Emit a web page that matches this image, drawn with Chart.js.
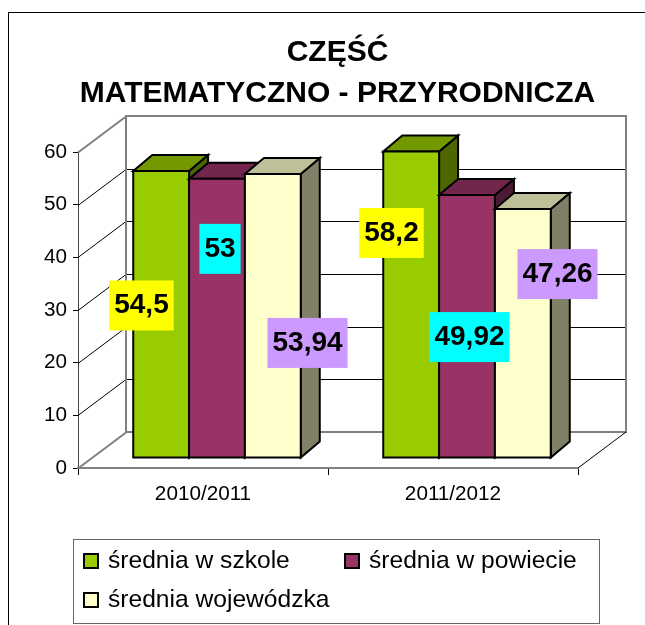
<!DOCTYPE html>
<html lang="pl">
<head>
<meta charset="utf-8">
<title>Część matematyczno-przyrodnicza</title>
<script src="https://cdn.jsdelivr.net/npm/chart.js@4/dist/chart.umd.min.js"></script>
<style>
  html, body { margin: 0; padding: 0; background: #fff; }
  canvas { display: block; }
</style>
</head>
<body>
<canvas id="chart" width="645" height="625"></canvas>
<script>
// Data
const categories = ["2010/2011", "2011/2012"];
const seriesNames = ["średnia w szkole", "średnia w powiecie", "średnia wojewódzka"];
const szkola = [54.5, 58.2];
const powiat = [53, 49.92];
const wojewodztwo = [53.94, 47.26];

// Colours: front, top, side of each series
const fronts = ["#99CC00", "#993366", "#FFFFCC"];
const tops = ["#739900", "#73264D", "#BFBF99"];
const sides = ["#4D6600", "#4D1A33", "#808066"];
const labelBoxes = ["#FFFF00", "#00FFFF", "#CC99FF"];

// Label offsets from the bar's value point, [series][category]
const labelOffsets = [
  [[-5.7, 124.5], [-5.7, 71.5]],
  [[17, 60], [16.5, 132]],
  [[48.7, 159], [48.7, 55]]
];

const FONT = '"Liberation Sans", Arial, sans-serif';
const GRAY = "#808080";

// 3D look: walls sit behind the axes, bars are pushed part of the way in
const WALL_DX = 48, WALL_DY = 36;
const BAR_DX = 14, BAR_DY = 10;
const DEPTH_DX = 19, DEPTH_DY = 16;

function line(ctx, x1, y1, x2, y2, color, width) {
  ctx.strokeStyle = color;
  ctx.lineWidth = width;
  ctx.beginPath();
  ctx.moveTo(x1, y1);
  ctx.lineTo(x2, y2);
  ctx.stroke();
}

function face(ctx, pts, fill) {
  ctx.fillStyle = fill;
  ctx.strokeStyle = "#000";
  ctx.lineWidth = 2;
  ctx.lineJoin = "miter";
  ctx.beginPath();
  pts.forEach((p, i) => (i ? ctx.lineTo(p[0], p[1]) : ctx.moveTo(p[0], p[1])));
  ctx.closePath();
  ctx.fill();
  ctx.stroke();
}

// ------------------------------------------------------------
// Walls and grid
// ------------------------------------------------------------
function drawWalls(chart) {
  const ctx = chart.ctx;
  const { left, right } = chart.chartArea;
  const y = chart.scales.y;
  const bx = left + WALL_DX, rx = right + WALL_DX;

  y.ticks.forEach(t => {
    const py = Math.round(y.getPixelForValue(t.value)) + 0.5;
    const edge = t.value === y.min || t.value === y.max;
    line(ctx, left, py, bx, py - WALL_DY, edge ? GRAY : "#000", edge ? 2 : 1);
    if (!edge) line(ctx, bx, py - WALL_DY, rx, py - WALL_DY, "#000", 1);
  });

  const top = y.getPixelForValue(y.max) - WALL_DY;
  const bottom = y.getPixelForValue(y.min) - WALL_DY;
  ctx.strokeStyle = GRAY;
  ctx.lineWidth = 2;
  ctx.strokeRect(bx, top, rx - bx, bottom - top);
  line(ctx, right, bottom + WALL_DY, rx, bottom, "#000", 1);
}

// ------------------------------------------------------------
// Bars, painted left to right so nearer ones overlap
// ------------------------------------------------------------
function drawBars(chart) {
  const ctx = chart.ctx;
  chart.data.datasets.forEach((ds, i) => {
    chart.getDatasetMeta(i).data.forEach(el => {
      const { x, y, base, width } = el.getProps(["x", "y", "base", "width"]);
      const l = x - width / 2 + BAR_DX, r = x + width / 2 + BAR_DX;
      const t = y - BAR_DY, b = base - BAR_DY;
      face(ctx, [[r, t], [r + DEPTH_DX, t - DEPTH_DY], [r + DEPTH_DX, b - DEPTH_DY], [r, b]], sides[i]);
      face(ctx, [[l, t], [l + DEPTH_DX, t - DEPTH_DY], [r + DEPTH_DX, t - DEPTH_DY], [r, t]], tops[i]);
      face(ctx, [[l, t], [r, t], [r, b], [l, b]], fronts[i]);
    });
  });
}

function drawValueLabels(chart) {
  const ctx = chart.ctx;
  ctx.font = "bold 28px " + FONT;
  ctx.textAlign = "center";
  ctx.textBaseline = "middle";
  chart.data.datasets.forEach((ds, i) => {
    chart.getDatasetMeta(i).data.forEach((el, j) => {
      const text = String(ds.data[j]).replace(".", ",");
      const cx = el.x + labelOffsets[i][j][0];
      const cy = el.y + labelOffsets[i][j][1];
      const w = ctx.measureText(text).width + 10;
      ctx.fillStyle = labelBoxes[i];
      ctx.fillRect(cx - w / 2, cy - 25, w, 50);
      ctx.fillStyle = "#000";
      ctx.fillText(text, cx, cy);
    });
  });
}

// ------------------------------------------------------------
// Legend box and outer frame
// ------------------------------------------------------------
function drawLegend(chart) {
  const ctx = chart.ctx;
  ctx.fillStyle = "#fff";
  ctx.fillRect(74, 540, 525, 83);
  ctx.strokeStyle = "#666";
  ctx.lineWidth = 1;
  ctx.strokeRect(73.5, 539.5, 526, 84);

  const spots = [[84, 561], [345, 561], [84, 600]];
  ctx.font = "24.6px " + FONT;
  ctx.textAlign = "left";
  ctx.textBaseline = "middle";
  chart.data.datasets.forEach((ds, i) => {
    const [x, y] = spots[i];
    ctx.fillStyle = fronts[i];
    ctx.strokeStyle = "#000";
    ctx.lineWidth = 2;
    ctx.fillRect(x, y - 7, 14, 14);
    ctx.strokeRect(x, y - 7, 14, 14);
    ctx.fillStyle = "#000";
    ctx.fillText(ds.label, x + 24, y);
  });
}

const pseudo3d = {
  id: "pseudo3d",
  afterLayout(chart) {
    // title sits right of the canvas centre, over the 3D plot
    chart.titleBlock.left = 30;
    chart.titleBlock.right = chart.width;
  },
  beforeDraw(chart) {
    const ctx = chart.ctx;
    ctx.strokeStyle = "#000";
    ctx.lineWidth = 1;
    ctx.strokeRect(8.5, 12.5, chart.width + 20, chart.height + 20);
  },
  beforeDatasetsDraw(chart) {
    drawWalls(chart);
    drawBars(chart);
    return false;
  },
  afterDraw(chart) {
    drawValueLabels(chart);
    drawLegend(chart);
  }
};

new Chart(document.getElementById("chart"), {
  type: "bar",
  data: {
    labels: categories,
    datasets: [
      { label: seriesNames[0], data: szkola, backgroundColor: fronts[0] },
      { label: seriesNames[1], data: powiat, backgroundColor: fronts[1] },
      { label: seriesNames[2], data: wojewodztwo, backgroundColor: fronts[2] }
    ]
  },
  options: {
    responsive: false,
    animation: false,
    layout: { padding: { left: 0, right: 67, top: 0, bottom: 0 } },
    datasets: { bar: { categoryPercentage: 0.67, barPercentage: 1 } },
    plugins: {
      legend: { display: false },
      tooltip: { enabled: false },
      title: {
        display: true,
        text: ["CZĘŚĆ", "MATEMATYCZNO - PRZYRODNICZA"],
        color: "#000",
        font: { family: FONT, size: 30, weight: "bold", lineHeight: 1.37 },
        padding: { top: 32.5, bottom: 37.3 }
      }
    },
    scales: {
      x: {
        afterFit(scale) { scale.height = 157; },
        grid: { drawOnChartArea: false, drawTicks: true, tickLength: 7, color: "#000", lineWidth: 1 },
        border: { color: GRAY, width: 2 },
        ticks: { color: "#000", padding: 7, font: { family: FONT, size: 20.7 }, maxRotation: 0 }
      },
      y: {
        min: 0,
        max: 60,
        afterFit(scale) { scale.width = 78; },
        grid: { drawOnChartArea: false, drawTicks: true, tickLength: 5, color: "#000", lineWidth: 1 },
        border: { color: "#444", width: 1 },
        ticks: { stepSize: 10, color: "#000", padding: 6, font: { family: FONT, size: 20.7 } }
      }
    }
  },
  plugins: [pseudo3d]
});
</script>
</body>
</html>
